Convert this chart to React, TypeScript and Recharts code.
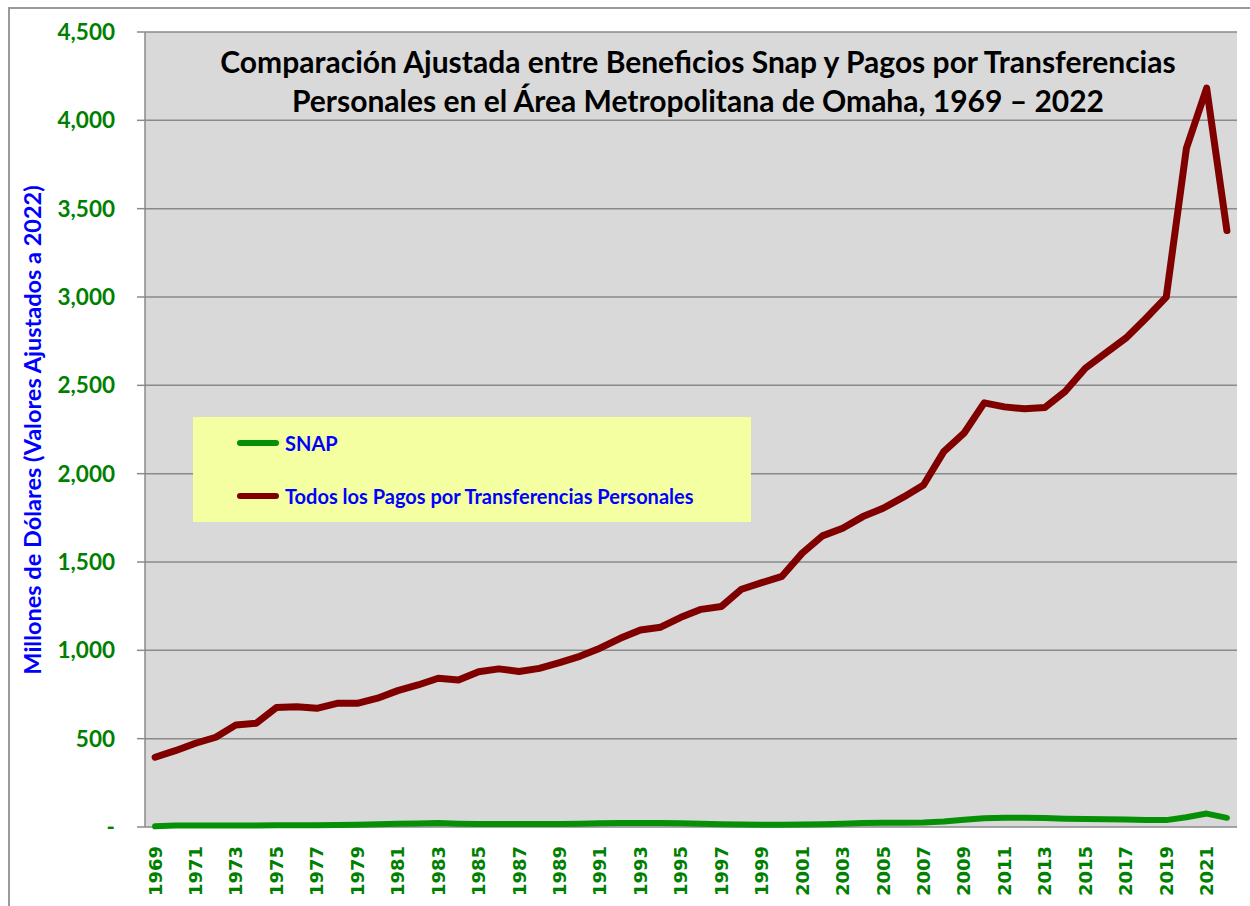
import { LineChart, Line, XAxis, YAxis, CartesianGrid, Legend } from 'recharts';

const years = [
  1969, 1970, 1971, 1972, 1973, 1974, 1975, 1976, 1977, 1978,
  1979, 1980, 1981, 1982, 1983, 1984, 1985, 1986, 1987, 1988,
  1989, 1990, 1991, 1992, 1993, 1994, 1995, 1996, 1997, 1998,
  1999, 2000, 2001, 2002, 2003, 2004, 2005, 2006, 2007, 2008,
  2009, 2010, 2011, 2012, 2013, 2014, 2015, 2016, 2017, 2018,
  2019, 2020, 2021, 2022,
];

// millones de dólares, ajustados a 2022
const snap = [
  4, 8, 9, 9, 9, 9, 10, 10, 10, 11,
  13, 15, 18, 20, 23, 19, 17, 17, 17, 17,
  17, 18, 21, 23, 23, 22, 21, 19, 16, 14,
  13, 13, 14, 16, 19, 22, 24, 24, 25, 31,
  41, 50, 52, 52, 51, 47, 45, 44, 43, 40,
  39, 55, 76, 52,
];

const transfers = [
  395, 432, 474, 508, 578, 587, 676, 681, 672, 700,
  700, 729, 772, 804, 842, 832, 879, 895, 880, 898,
  930, 966, 1012, 1068, 1115, 1131, 1187, 1232, 1248, 1346,
  1383, 1419, 1550, 1648, 1691, 1757, 1804, 1867, 1936, 2125,
  2229, 2401, 2378, 2367, 2374, 2465, 2597, 2682, 2767, 2880,
  2999, 3843, 4182, 3376,
];

const yTicks = [0, 500, 1000, 1500, 2000, 2500, 3000, 3500, 4000, 4500];

const labelYears = years.filter((_, i) => i % 2 === 0);
const boundaryTicks = [...years.map((y) => y - 0.5), 2022.5];

const data = years.map((year, i) => ({
  year,
  snap: snap[i],
  transfers: transfers[i],
}));

const GREEN = '#008000';
const SNAP_COLOR = '#069006';
const TRANSFER_COLOR = '#800000';
const AXIS_GRAY = '#8a8a8a';

function fmtY(v: number) {
  return v === 0 ? '-' : v.toLocaleString('en-US');
}

function YearTick({ x, y, payload }: any) {
  return (
    <text
      x={x}
      y={y + 11}
      transform={`rotate(-90, ${x}, ${y + 11})`}
      textAnchor="end"
      dy="0.36em"
      fill={GREEN}
      fontSize={18}
      fontWeight="bold"
      fontFamily="'DejaVu Sans', Verdana, sans-serif"
    >
      {payload.value}
    </text>
  );
}

function LegendBox() {
  const rows = [
    { label: 'SNAP', color: SNAP_COLOR },
    { label: 'Todos los Pagos por Transferencias Personales', color: TRANSFER_COLOR },
  ];
  return (
    <div
      style={{
        background: '#F3FFA0',
        width: 558,
        height: 105,
        boxSizing: 'border-box',
        paddingTop: 12,
        paddingLeft: 44,
        fontFamily: 'Lato, sans-serif',
      }}
    >
      {rows.map((r) => (
        <div key={r.label} style={{ display: 'flex', alignItems: 'center', height: 28, marginBottom: 25 }}>
          <span
            style={{
              display: 'inline-block',
              width: 42,
              height: 6,
              borderRadius: 3,
              background: r.color,
              marginRight: 6,
            }}
          />
          <span style={{ color: '#0000FF', fontWeight: 'bold', fontSize: 20 }}>{r.label}</span>
        </div>
      ))}
    </div>
  );
}

export default function App() {
  return (
    <div style={{ position: 'absolute', left: 0, top: 0, width: 1250, height: 906, background: '#fff', overflow: 'hidden' }}>
      <div
        style={{
          position: 'absolute',
          left: 8,
          top: 7,
          width: 1250,
          height: 920,
          border: '2px solid #9a9a9a',
          boxSizing: 'border-box',
        }}
      />
      <div style={{ position: 'absolute', left: 0, top: 0 }}>
        <LineChart width={1250} height={906} data={data} margin={{ top: 32, right: 13, bottom: 0, left: 0 }}>
          <CartesianGrid vertical={false} fill="#D9D9D9" stroke={AXIS_GRAY} strokeWidth={1.5} />
          <XAxis
            xAxisId="ticks"
            dataKey="year"
            type="number"
            domain={[1968.5, 2022.5]}
            ticks={boundaryTicks}
            interval={0}
            height={0}
            tick={false}
            tickSize={8}
            tickLine={{ stroke: AXIS_GRAY, strokeWidth: 1.5 }}
            axisLine={{ stroke: AXIS_GRAY, strokeWidth: 1.5 }}
          />
          <XAxis
            xAxisId="main"
            dataKey="year"
            type="number"
            domain={[1968.5, 2022.5]}
            ticks={labelYears}
            interval={0}
            height={79}
            tick={<YearTick />}
            tickLine={false}
            axisLine={false}
          />
          <YAxis
            width={145}
            domain={[0, 4500]}
            ticks={yTicks}
            interval={0}
            tickFormatter={fmtY}
            tickSize={8}
            tickMargin={22}
            tick={{ fill: GREEN, fontSize: 22.5, fontWeight: 'bold', fontFamily: 'Lato, sans-serif' }}
            tickLine={{ stroke: AXIS_GRAY, strokeWidth: 1.5 }}
            axisLine={{ stroke: AXIS_GRAY, strokeWidth: 1.5 }}
          />
          <Legend
            layout="horizontal"
            verticalAlign="middle"
            align="center"
            content={() => <LegendBox />}
            wrapperStyle={{ position: 'absolute', left: 193, top: 417, width: 558, height: 105 }}
          />
          <Line
            xAxisId="main"
            dataKey="snap"
            name="SNAP"
            stroke={SNAP_COLOR}
            strokeWidth={6}
            strokeLinecap="round"
            strokeLinejoin="round"
            dot={false}
            isAnimationActive={false}
          />
          <Line
            xAxisId="main"
            dataKey="transfers"
            name="Todos los Pagos por Transferencias Personales"
            stroke={TRANSFER_COLOR}
            strokeWidth={7}
            strokeLinecap="round"
            strokeLinejoin="round"
            dot={false}
            isAnimationActive={false}
          />
        </LineChart>
      </div>
      <div
        style={{
          position: 'absolute',
          left: 145,
          width: 1106,
          top: 42,
          textAlign: 'center',
          fontFamily: 'Lato, sans-serif',
          fontWeight: 'bold',
          fontSize: 30,
          lineHeight: '39px',
          color: '#000',
        }}
      >
        Comparación Ajustada entre Beneficios Snap y Pagos por Transferencias
        <br />
        Personales en el Área Metropolitana de Omaha, 1969 – 2022
      </div>
      <div
        style={{
          position: 'absolute',
          left: 32,
          top: 430,
          transform: 'translate(-50%, -50%) rotate(-90deg)',
          whiteSpace: 'nowrap',
          fontFamily: 'Lato, sans-serif',
          fontWeight: 'bold',
          fontSize: 23.5,
          color: '#0000FF',
        }}
      >
        Millones de Dólares (Valores Ajustados a 2022)
      </div>
    </div>
  );
}
